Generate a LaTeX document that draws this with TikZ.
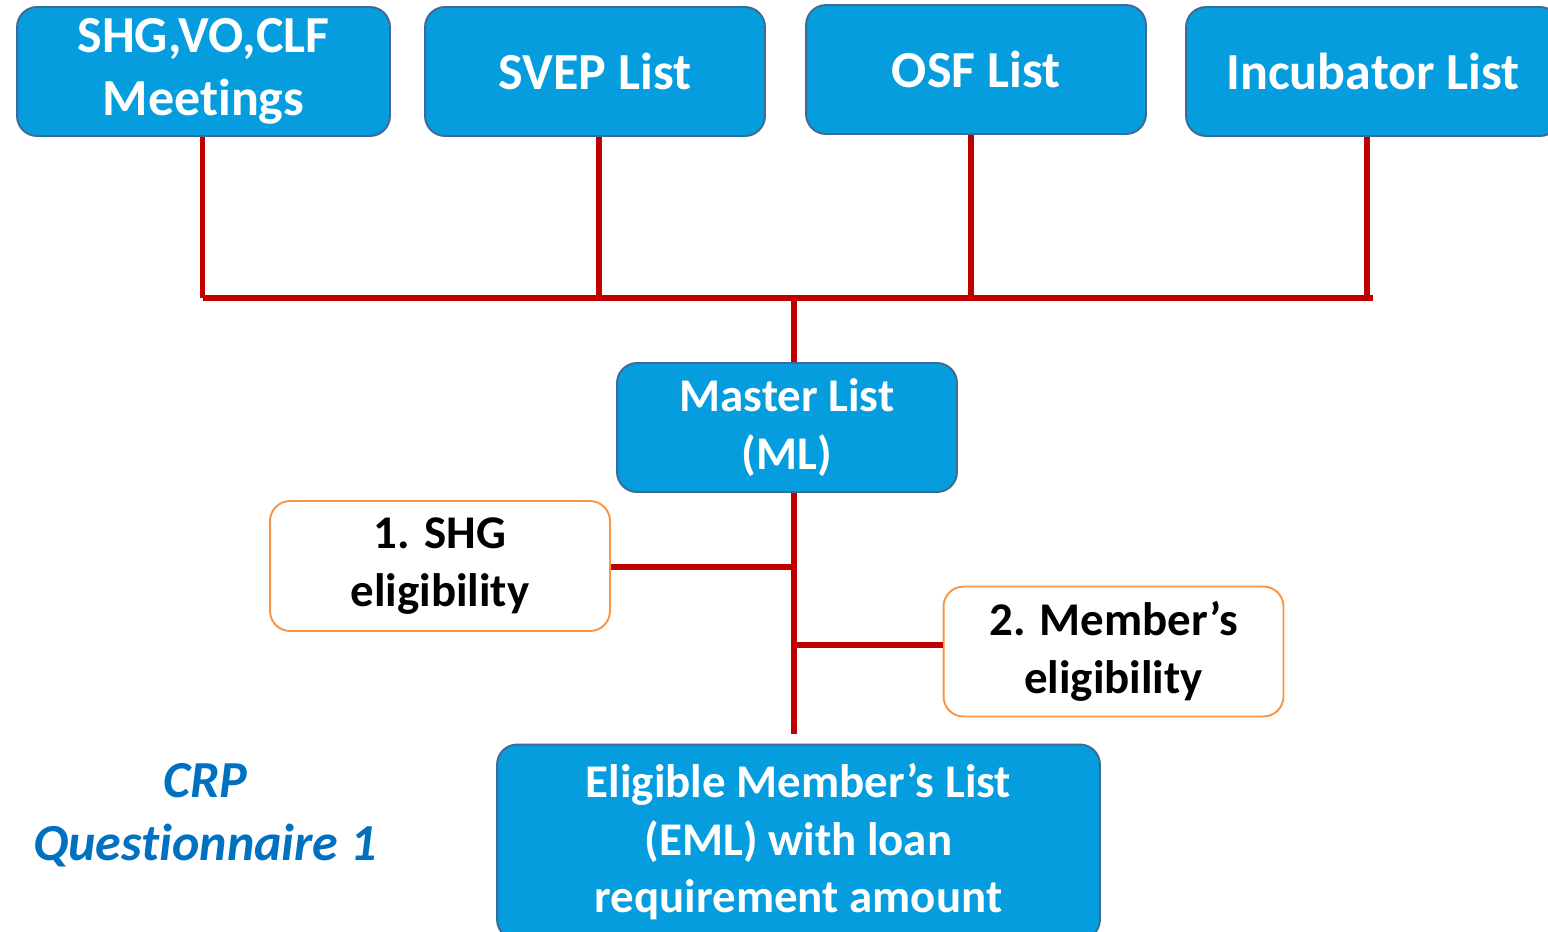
\documentclass[tikz,border=0pt]{standalone}
\usepackage{fontspec}
\setmainfont[Ligatures=NoCommon]{Carlito}
\usetikzlibrary{positioning}
\definecolor{boxblue}{HTML}{069DDE}
\definecolor{boxedge}{HTML}{3D6A96}
\definecolor{linered}{HTML}{C00000}
\definecolor{edgeorange}{HTML}{F79646}
\definecolor{crpblue}{HTML}{0070C0}
\newcommand{\bigtxt}{\fontsize{29.6}{36}\selectfont}
\newcommand{\midtxt}{\fontsize{26.7}{32.7}\selectfont}
\tikzstyle{block} = [draw=boxedge, line width=1.1pt, fill=boxblue, rectangle,
    rounded corners=0.4cm, text=white, align=center, font=\bfseries\midtxt,
    minimum height=2.58cm, minimum width=6.8cm, inner sep=0pt]
\tikzstyle{topblock} = [block, font=\bfseries\bigtxt]
\tikzstyle{check} = [draw=edgeorange, line width=1.1pt, fill=white, rectangle,
    rounded corners=0.4cm, text=black, align=center, font=\bfseries\midtxt,
    minimum height=2.6cm, minimum width=6.8cm, inner sep=0pt]
\tikzstyle{wire} = [draw=linered, line width=3.4pt]

\begin{document}
\begin{tikzpicture}[x=0.02cm,y=-0.02cm]
\useasboundingbox (0,0) rectangle (1548,931);
\clip (0,0) rectangle (1548,931);

\node[topblock, name=meet, minimum width=7.46cm] at (203.5,71.5) {SHG,VO,CLF\\Meetings};
\node[topblock, name=svep] at (595,71.5) {SVEP List};
\node[topblock, name=osf] at (976,69.5) {OSF List};
\node[topblock, name=incub, minimum width=7.48cm] at (1373,71.5) {Incubator List};

\coordinate (busL) at (203,298);
\coordinate (busR) at (1373,298);
\coordinate (trunk) at (794,298);

\node[block, name=master] at (787,427.5) {Master List\\(ML)};
\node[check, name=shgel] at (440,566) {1. SHG\\eligibility};
\node[check, name=memel] at (1113.5,651.5) {2. Member’s\\eligibility};
\node[block, name=eml, minimum width=12.06cm, minimum height=3.9cm] at (798.5,842) {Eligible Member’s List\\(EML) with loan\\requirement amount};

\node[name=crp, text=crpblue, align=center, font=\bfseries\itshape\bigtxt] at (205,815) {CRP\\Questionnaire 1};

% bus to the master list
\draw[wire] (busL) -- (busR);
\draw[wire] ([xshift=-0.02cm]meet.south) -- ([xshift=-0.02cm]meet.south |- busL);
\draw[wire] ([xshift=0.08cm]svep.south) -- ([xshift=0.08cm]svep.south |- busL);
\draw[wire] ([xshift=-0.1cm]osf.south) -- ([xshift=-0.1cm]osf.south |- busL);
\draw[wire] ([xshift=-0.12cm]incub.south) -- ([xshift=-0.12cm]incub.south |- busL);
\draw[wire] (trunk) -- (trunk |- master.north);

% trunk with checks
\draw[wire, shorten >=0.2cm] (trunk |- master.south) -- (trunk |- eml.north);
\draw[wire] ([yshift=-0.02cm]shgel.east) -- ([yshift=-0.02cm]shgel.east -| trunk);
\draw[wire] ([yshift=0.13cm]memel.west) -- ([yshift=0.13cm]memel.west -| trunk);

\end{tikzpicture}
\end{document}
